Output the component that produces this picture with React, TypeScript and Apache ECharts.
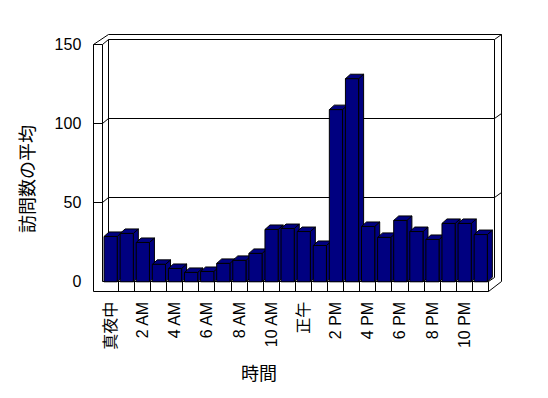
import React, { useEffect, useRef } from "react";
import * as echarts from "echarts";

const hours = [
  "真夜中", "1 AM", "2 AM", "3 AM", "4 AM", "5 AM", "6 AM", "7 AM", "8 AM", "9 AM", "10 AM", "11 AM",
  "正午", "1 PM", "2 PM", "3 PM", "4 PM", "5 PM", "6 PM", "7 PM", "8 PM", "9 PM", "10 PM", "11 PM",
];
const visits = [
  28.6, 30.5, 24.8, 11.0, 8.4, 5.9, 6.5, 11.6, 13.5, 17.9, 33.0, 33.6,
  31.7, 22.9, 108.6, 128.1, 34.9, 28.0, 38.7, 31.7, 26.7, 36.8, 36.8, 29.8,
];
const yTicks = [0, 50, 100, 150];
const yTitle = "訪問数の平均";
const xTitle = "時間";

const FONT = "'Liberation Sans', 'Noto Sans CJK JP', sans-serif";
const NAVY = "#000080";

export default function App() {
  const ref = useRef<HTMLDivElement>(null);
  useEffect(() => {
    if (!ref.current) return;
    const chart = echarts.init(ref.current, null, { renderer: "svg" });
    const c = (v: number) => Math.round(v - 0.5) + 0.5;
    const lineStyle = { stroke: "#000", lineWidth: 1, fill: "none" };

    const frameRender = (params: any, api: any) => {
      const bw = api.size([1, 0])[0];
      const n = hours.length;
      const xL = api.coord([0, 0])[0] - bw / 2;
      const xR = api.coord([n - 1, 0])[0] + bw / 2;
      const y = (v: number) => api.coord([0, v])[1];
      const y0 = y(yTicks[0]);
      const yT = y(yTicks[yTicks.length - 1]);
      const Dx = 6, Dy = -4.6, T = 8.5, backTop = 5.3, backRight = 7, floorH = 9.8;
      const L = (pts: number[][]) => ({
        type: "polyline",
        shape: { points: pts.map((p) => [c(p[0]), c(p[1])]) },
        style: lineStyle,
      });
      const children: any[] = [];
      children.push({
        type: "polygon",
        shape: {
          points: [
            [xL - T, yT],
            [xL + Dx, yT + Dy - backTop],
            [xR + Dx + backRight, yT + Dy - backTop],
            [xR + Dx + backRight, y0],
            [xR, y0 + floorH],
            [xL - T, y0 + floorH],
          ].map((p) => [c(p[0]), c(p[1])]),
        },
        style: { fill: "#fff", stroke: "#000", lineWidth: 1 },
      });
      // left wall
      children.push(L([[xL, yT], [xL, y0]]));
      children.push(L([[xL - T, yT], [xL, yT], [xL + Dx, yT + Dy]]));
      // back wall inner face
      children.push(L([[xL + Dx, y0 + Dy], [xL + Dx, yT + Dy], [xR + Dx, yT + Dy], [xR + Dx, y0 + Dy]]));
      children.push(L([[xR + Dx, yT + Dy], [xR + Dx + backRight, yT + Dy - backTop]]));
      // floor
      children.push(L([[xL, y0], [xR, y0], [xR, y0 + floorH]]));
      children.push(L([[xR, y0], [xR + Dx, y0 + Dy]]));
      for (let i = 1; i < n; i++) {
        const xb = xL + i * bw;
        children.push(L([[xb, y0], [xb, y0 + floorH]]));
      }
      // gridlines
      yTicks.slice(1, -1).forEach((v) => {
        const yy = y(v);
        children.push(L([[xL - T, yy], [xL, yy], [xL + Dx, yy + Dy], [xR + Dx, yy + Dy], [xR + Dx + backRight, yy + Dy - backTop]]));
      });
      return { type: "group", children };
    };

    const barRender = (params: any, api: any) => {
      const i = api.value(0);
      const v = api.value(1);
      const top = api.coord([i, v]);
      const base = api.coord([i, 0]);
      const bw = api.size([1, 0])[0];
      const w = bw * 0.82;
      const x0 = top[0] - w / 2 + 0.3;
      const x1 = x0 + w;
      const dx = 5, dy = -4.5;
      const st = { fill: NAVY, stroke: "#000", lineWidth: 1 };
      return {
        type: "group",
        children: [
          { type: "polygon", shape: { points: [[x1, top[1]], [x1 + dx, top[1] + dy], [x1 + dx, base[1] + dy], [x1, base[1]]] }, style: st },
          { type: "polygon", shape: { points: [[x0, top[1]], [x0 + dx, top[1] + dy], [x1 + dx, top[1] + dy], [x1, top[1]]] }, style: st },
          { type: "rect", shape: { x: x0, y: top[1], width: w, height: base[1] - top[1] }, style: st },
        ],
      };
    };

    chart.setOption({
      animation: false,
      backgroundColor: "#fff",
      grid: { left: 102.3, right: 59.5, top: 44, bottom: 116.2 },
      xAxis: {
        type: "category",
        data: hours,
        axisLine: { show: false },
        axisTick: { show: false },
        axisLabel: { interval: 1, rotate: 90, margin: 20, fontSize: 16, color: "#000", fontFamily: FONT },
        splitLine: { show: false },
      },
      yAxis: {
        type: "value",
        min: yTicks[0],
        max: yTicks[yTicks.length - 1],
        interval: 50,
        axisLine: { show: false },
        axisTick: { show: false },
        splitLine: { show: false },
        axisLabel: { margin: 21, fontSize: 16, color: "#000", fontFamily: FONT },
      },
      series: [
        { type: "custom", z: 1, silent: true, renderItem: frameRender, data: [[0, 0]], encode: { x: 0, y: 1 } },
        { type: "custom", z: 2, renderItem: barRender, data: visits.map((v, i) => [i, v]), encode: { x: 0, y: 1 } },
      ],
      graphic: [
        {
          type: "text",
          x: 28,
          y: 179,
          rotation: Math.PI / 2,
          style: { text: yTitle, fontSize: 18, fontFamily: FONT, fill: "#000", textAlign: "center", textVerticalAlign: "middle" },
        },
        {
          type: "text",
          x: 259,
          y: 374,
          style: { text: xTitle, fontSize: 18, fontFamily: FONT, fill: "#000", textAlign: "center", textVerticalAlign: "middle" },
        },
      ],
    });
    return () => chart.dispose();
  }, []);
  return <div ref={ref} style={{ position: "fixed", left: 0, top: 0, width: 548, height: 398 }} />;
}
